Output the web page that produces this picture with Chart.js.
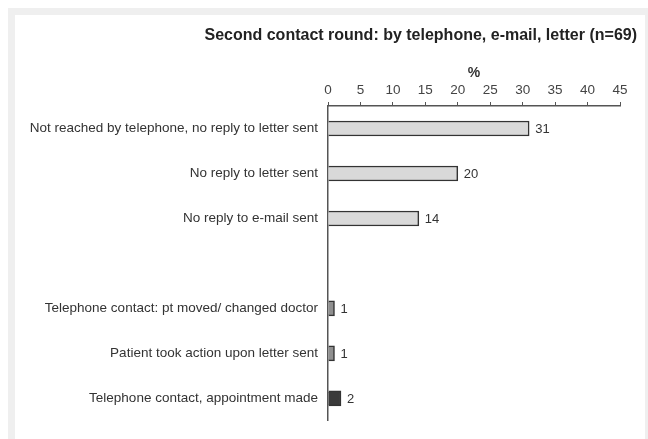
<!DOCTYPE html>
<html>
<head>
<meta charset="utf-8">
<script src="https://cdn.jsdelivr.net/npm/chart.js@4/dist/chart.umd.min.js"></script>
<style>
    html, body { margin: 0; padding: 0; background: #fff; overflow: hidden; }
    #marco { position: absolute; left: 8px; top: 8px; width: 660px; height: 460px; background: #efefef; }
    #panel { position: absolute; left: 15px; top: 15px; width: 630px; height: 440px; background: #fff; }
    #contenedor { position: absolute; left: 0; top: 0; width: 648px; height: 439px; }
</style>
</head>
<body>
<div id="marco"></div>
<div id="panel"></div>
<div id="contenedor"><canvas id="myChart"></canvas></div>
<script>
// datos
var titulo = 'Second contact round: by telephone, e-mail, letter (n=69)';
var categorias = [
    'Not reached by telephone, no reply to letter sent',
    'No reply to letter sent',
    'No reply to e-mail sent',
    '',
    'Telephone contact: pt moved/ changed doctor',
    'Patient took action upon letter sent',
    'Telephone contact, appointment made'
];
var porcentajes = [31, 20, 14, null, 1, 1, 2];
var ticksX = [0, 5, 10, 15, 20, 25, 30, 35, 40, 45];

var colores = ['#d9d9d9', '#d9d9d9', '#d9d9d9', '#d9d9d9', '#8f8f8f', '#8f8f8f', '#3a3a3a'];
var fuente = '"Liberation Sans", Arial, sans-serif';
let myChart;

// titulo alineado al borde derecho + etiquetas al final de cada barra
const etiquetas = {
    id: 'etiquetas',
    afterDatasetsDraw(chart) {
        const ctx = chart.ctx;
        const meta = chart.getDatasetMeta(0);
        ctx.save();
        ctx.font = 'bold 16px ' + fuente;
        ctx.fillStyle = '#222';
        ctx.textAlign = 'right';
        ctx.textBaseline = 'middle';
        ctx.fillText(titulo, 637, 36);

        ctx.font = '13px ' + fuente;
        ctx.fillStyle = '#333';
        ctx.textAlign = 'left';
        meta.data.forEach(function (bar, i) {
            if (porcentajes[i] === null) return;
            ctx.fillText(String(porcentajes[i]), bar.x + 6, bar.y + 1);
        });
        ctx.restore();
    }
};

function generarGrafica() {
    var ctx = document.getElementById('myChart').getContext('2d');
    if (myChart) {
        myChart.destroy();
    }
    myChart = new Chart(ctx, {
        type: 'bar',
        plugins: [etiquetas],
        data: {
            labels: categorias,
            datasets: [{
                data: porcentajes,
                backgroundColor: colores,
                borderColor: '#333',
                borderWidth: 1.5,
                borderSkipped: 'left',
                barThickness: 15
            }]
        },
        options: {
            indexAxis: 'y',
            responsive: true,
            maintainAspectRatio: false,
            animation: false,
            layout: { padding: { left: 0, right: 28, top: 60, bottom: 14 } },
            plugins: {
                legend: { display: false },
                tooltip: { enabled: false },
                title: { display: false }
            },
            scales: {
                x: {
                    position: 'top',
                    min: 0,
                    max: 45,
                    afterBuildTicks: function (scale) {
                        scale.ticks = ticksX.map(function (v) { return { value: v }; });
                    },
                    afterFit: function (scale) {
                        scale.height = 46;
                    },
                    title: {
                        display: true,
                        text: '%',
                        color: '#333',
                        font: { family: fuente, size: 14, weight: 'bold' },
                        padding: { top: 5, bottom: 0 }
                    },
                    ticks: {
                        color: '#444',
                        padding: 4,
                        maxRotation: 0,
                        font: { family: fuente, size: 13.5 }
                    },
                    grid: {
                        drawOnChartArea: false,
                        drawTicks: true,
                        tickLength: 4,
                        color: '#555'
                    },
                    border: { display: true, color: '#555', width: 1.5 }
                },
                y: {
                    afterFit: function (scale) {
                        scale.width = 328;
                    },
                    ticks: {
                        color: '#333',
                        padding: 10,
                        font: { family: fuente, size: 13.5 }
                    },
                    grid: { display: false, drawTicks: false },
                    border: { display: true, color: '#555', width: 1.5 }
                }
            }
        }
    });
}

generarGrafica();
</script>
</body>
</html>
